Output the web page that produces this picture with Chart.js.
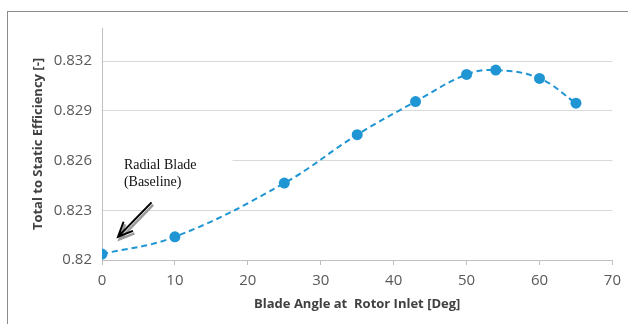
<!DOCTYPE html>
<html>
<head>
<meta charset="utf-8">
<script src="https://cdn.jsdelivr.net/npm/chart.js@4/dist/chart.umd.min.js"></script>
<style>
html, body { margin: 0; padding: 0; background: #fff; }
#wrap { width: 628px; height: 324px; }
</style>
</head>
<body>
<div id="wrap"><canvas id="effChart"></canvas></div>
<script>
// values
const bladeAngle = [0, 10, 25, 35, 43, 50, 54, 60, 65];
const efficiency = [0.82036, 0.8214, 0.82464, 0.82756, 0.82956, 0.8312, 0.83146, 0.83096, 0.82946];
const xTicks = [0, 10, 20, 30, 40, 50, 60, 70];
const yTicks = [0.82, 0.823, 0.826, 0.829, 0.832];
const noteLines = ["Radial Blade", "(Baseline)"];

const blue = "#1f96d3";
const tickGrey = "#595959";

// outer frame + the "Radial Blade" callout
const frameAndNote = {
    id: "frameAndNote",
    beforeDraw(chart) {
        const ctx = chart.ctx;
        ctx.save();
        ctx.strokeStyle = "#8c8c8c";
        ctx.lineWidth = 1;
        ctx.strokeRect(7.5, 11.5, 660, 360);
        ctx.restore();
    },
    beforeDatasetsDraw(chart) {
        const { x, y } = chart.scales;
        const ctx = chart.ctx;
        // text box hides the grid behind the note
        const l = x.getPixelForValue(0) + 1;
        const r = x.getPixelForValue(17.9);
        const t = y.getPixelForValue(0.8266);
        const b = y.getPixelForValue(0.8239);
        ctx.save();
        ctx.fillStyle = "#fff";
        ctx.fillRect(l, t, r - l, b - t);
        ctx.restore();
    },
    afterDatasetsDraw(chart) {
        const { x, y } = chart.scales;
        const ctx = chart.ctx;
        ctx.save();
        ctx.font = "14px 'Liberation Serif'";
        ctx.fillStyle = "#111";
        ctx.textBaseline = "middle";
        ctx.fillText(noteLines[0], x.getPixelForValue(3.0), y.getPixelForValue(0.8257));
        ctx.fillText(noteLines[1], x.getPixelForValue(3.0), y.getPixelForValue(0.82468));

        const tailX = x.getPixelForValue(6.8), tailY = y.getPixelForValue(0.82348);
        const tipX = x.getPixelForValue(2.2), tipY = y.getPixelForValue(0.8214);
        const ang = Math.atan2(tailY - tipY, tailX - tipX);
        const head = 16, spread = 0.42;
        const drawArrow = (dx, dy, color, w) => {
            ctx.strokeStyle = color;
            ctx.lineWidth = w;
            ctx.beginPath();
            ctx.moveTo(tailX + dx, tailY + dy);
            ctx.lineTo(tipX + dx, tipY + dy);
            ctx.moveTo(tipX + dx + head * Math.cos(ang - spread), tipY + dy + head * Math.sin(ang - spread));
            ctx.lineTo(tipX + dx, tipY + dy);
            ctx.lineTo(tipX + dx + head * Math.cos(ang + spread), tipY + dy + head * Math.sin(ang + spread));
            ctx.stroke();
        };
        drawArrow(1.5, 2.5, "#9a9a9a", 2.5);
        drawArrow(0, 0, "#000", 2);
        ctx.restore();
    }
};

const ctx = document.getElementById("effChart").getContext("2d");
const chart = new Chart(ctx, {
    type: "line",
    data: {
        datasets: [{
            data: bladeAngle.map((a, i) => ({ x: a, y: efficiency[i] })),
            borderColor: blue,
            backgroundColor: blue,
            borderWidth: 2,
            borderDash: [6, 4],
            tension: 0.4,
            pointRadius: 5.5,
            pointBorderWidth: 0,
            pointBackgroundColor: blue,
            fill: false
        }]
    },
    options: {
        responsive: true,
        maintainAspectRatio: false,
        animation: false,
        layout: { padding: { left: 0, right: 15, top: 28, bottom: 0 } },
        plugins: {
            legend: { display: false },
            tooltip: { enabled: false }
        },
        scales: {
            x: {
                type: "linear",
                min: 0,
                max: 70,
                afterBuildTicks: s => { s.ticks = xTicks.map(v => ({ value: v })); },
                afterFit: s => { s.height = 64; },
                ticks: {
                    color: tickGrey,
                    font: { family: "'Open Sans'", size: 15 },
                    padding: 7,
                    maxRotation: 0
                },
                grid: {
                    drawOnChartArea: false,
                    drawTicks: true,
                    tickLength: 5,
                    color: "#bfbfbf"
                },
                border: { color: "#bfbfbf" },
                title: {
                    display: true,
                    text: "Blade Angle at  Rotor Inlet [Deg]",
                    color: "#404040",
                    font: { family: "'Open Sans'", size: 13, weight: "bold" },
                    padding: { top: 2, bottom: 12 }
                }
            },
            y: {
                min: 0.82,
                max: 0.834,
                afterBuildTicks: s => { s.ticks = yTicks.map(v => ({ value: v })); },
                afterFit: s => { s.width = 102; },
                ticks: {
                    color: tickGrey,
                    font: { family: "'Open Sans'", size: 15 },
                    padding: 10,
                    callback: v => String(Number(v.toFixed(3)))
                },
                grid: {
                    color: "#d9d9d9",
                    drawTicks: false
                },
                border: { color: "#bfbfbf" },
                title: {
                    display: true,
                    text: "Total to Static Efficiency [-]",
                    color: "#404040",
                    font: { family: "'Open Sans'", size: 13, weight: "bold" },
                    padding: { top: 30, bottom: 0 }
                }
            }
        }
    },
    plugins: [frameAndNote]
});
</script>
</body>
</html>
